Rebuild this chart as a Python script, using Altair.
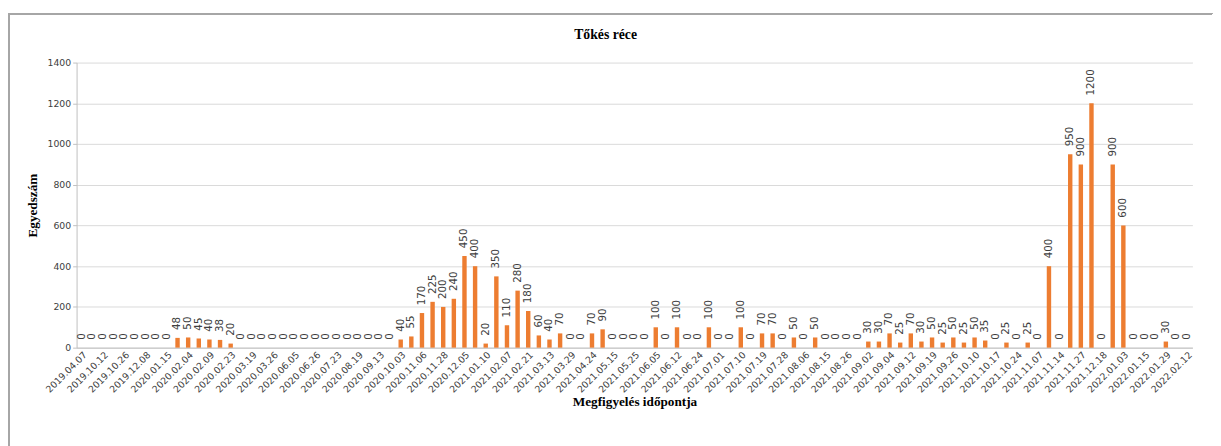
import altair as alt
import pandas as pd

chart_title = "Tőkés réce"

tick_labels = [
    "2019.04.07", "2019.10.12", "2019.10.26", "2019.12.08", "2020.01.15", "2020.02.04",
    "2020.02.09", "2020.02.23", "2020.03.19", "2020.03.26", "2020.06.05", "2020.06.26",
    "2020.07.23", "2020.08.19", "2020.09.13", "2020.10.03", "2020.11.06", "2020.11.28",
    "2020.12.05", "2021.01.10", "2021.02.07", "2021.02.21", "2021.03.13", "2021.03.29",
    "2021.04.24", "2021.05.15", "2021.05.25", "2021.06.05", "2021.06.12", "2021.06.24",
    "2021.07.01", "2021.07.10", "2021.07.19", "2021.07.28", "2021.08.06", "2021.08.15",
    "2021.08.26", "2021.09.02", "2021.09.04", "2021.09.12", "2021.09.19", "2021.09.26",
    "2021.10.10", "2021.10.17", "2021.10.24", "2021.11.07", "2021.11.14", "2021.11.27",
    "2021.12.18", "2022.01.03", "2022.01.15", "2022.01.29", "2022.02.12",
]

counts = [
    0, 0, 0, 0, 0, 0, 0, 0, 0,
    48, 50, 45, 40, 38, 20,
    0, 0, 0, 0, 0, 0, 0, 0, 0, 0, 0, 0, 0, 0, 0,
    40, 55, 170, 225, 200, 240, 450, 400, 20, 350, 110, 280, 180, 60, 40, 70,
    0, 0, 70, 90, 0, 0, 0, 0,
    100, 0, 100, 0, 0, 100, 0, 0, 100, 0, 70, 70, 0, 50, 0, 50, 0, 0, 0, 0,
    30, 30, 70, 25, 70, 30, 50, 25, 50, 25, 50, 35, 0, 25, 0, 25, 0,
    400, 0, 950, 900, 1200, 0, 900, 600, 0, 0, 0, 30, 0, 0,
]

# every other observation date is labelled on the axis; unlabelled ones get hidden keys
categories = []
for i in range(len(counts)):
    if i % 2 == 0:
        categories.append(tick_labels[i // 2])
    else:
        categories.append(f"_{i}")

df = pd.DataFrame({"datum": categories, "egyed": counts})
title_df = pd.DataFrame({"t": [chart_title]})

W, H = 1139, 291
LABEL_FONT = "DejaVu Sans"
SERIF = "Liberation Serif"

x = alt.X(
    "datum:N",
    sort=categories,
    scale=alt.Scale(paddingInner=0.58, paddingOuter=0.29),
    axis=alt.Axis(
        values=tick_labels,
        labelAngle=-45,
        labelFont=LABEL_FONT,
        labelFontSize=9.5,
        labelColor="#404040",
        labelPadding=2,
        ticks=False,
        domainColor="#bfbfbf",
        title="Megfigyelés időpontja",
        titleFont=SERIF,
        titleFontSize=13.5,
        titleFontWeight="bold",
        titleColor="#000000",
        titleY=55,
        titleBaseline="middle",
    ),
)
y = alt.Y(
    "egyed:Q",
    scale=alt.Scale(domain=[0, 1400]),
    axis=alt.Axis(
        values=[0, 200, 400, 600, 800, 1000, 1200, 1400],
        format="d",
        labelFont=LABEL_FONT,
        labelFontSize=9.5,
        labelColor="#404040",
        tickSize=4,
        tickColor="#bfbfbf",
        domainColor="#bfbfbf",
        gridColor="#d9d9d9",
        title="Egyedszám",
        titleFont=SERIF,
        titleFontSize=13.5,
        titleFontWeight="bold",
        titleColor="#000000",
        titlePadding=8,
    ),
)

bars = alt.Chart(df).mark_bar(color="#ED7D31", size=4.5).encode(x=x, y=y)

labels = alt.Chart(df).mark_text(
    angle=270, align="left", baseline="middle", dx=8,
    font=LABEL_FONT, fontSize=10.5, color="#404040",
).encode(x=x, y=y, text="egyed:Q")

title_mark = alt.Chart(title_df).mark_text(
    font=SERIF, fontSize=14, fontWeight="bold", color="#000000",
    align="center", baseline="middle",
).encode(x=alt.value(540), y=alt.value(-28), text="t:N")

frame_top = alt.Chart(df).mark_rule(color="#a6a6a6", strokeWidth=1).encode(
    x=alt.value(-69), x2=alt.value(W + 20), y=alt.value(-50)
)
frame_left = alt.Chart(df).mark_rule(color="#a6a6a6", strokeWidth=1).encode(
    x=alt.value(-69), y=alt.value(-50), y2=alt.value(H + 110)
)

chart = alt.layer(frame_top, frame_left, bars, labels, title_mark).properties(
    width=W,
    height=H,
    padding={"top": 0, "left": 0, "right": 0, "bottom": 0},
).configure_view(stroke=None).configure_axis(grid=True).configure_axisX(grid=False)

chart.save("out.html", embed_options={"renderer": "svg", "actions": False})
